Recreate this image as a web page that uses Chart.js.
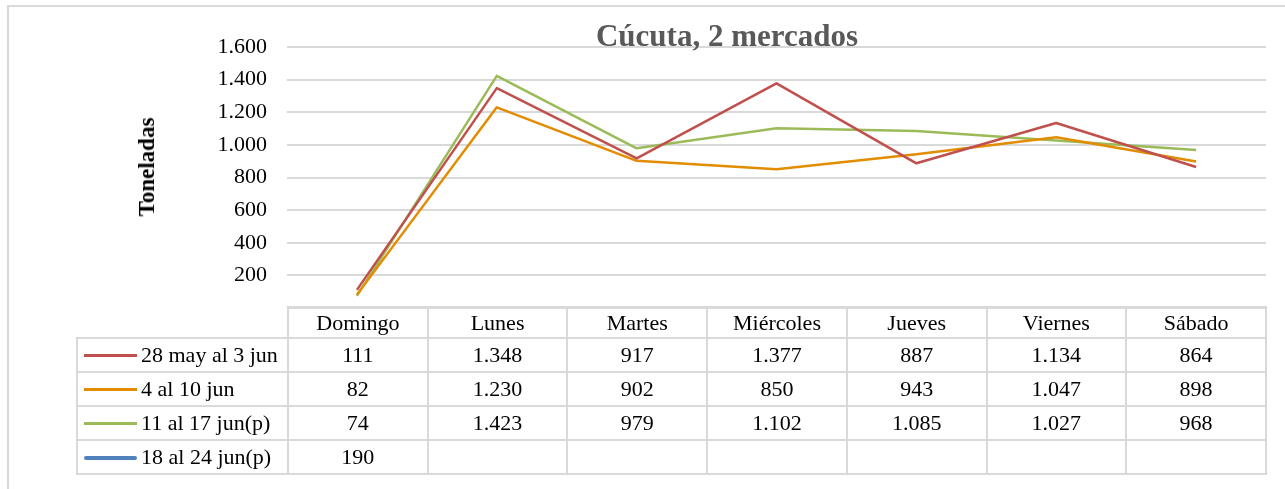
<!DOCTYPE html>
<html>
<head>
<meta charset="utf-8">
<script src="https://cdn.jsdelivr.net/npm/chart.js@4.4.1/dist/chart.umd.min.js"></script>
<style>
  body { margin: 0; background: #fff; }
  #wrap { position: relative; width: 1285px; height: 489px; overflow: hidden; font-family: "Liberation Serif", serif; }
  #frame { position: absolute; left: 7px; top: 5px; width: 1400px; height: 600px; border: 2px solid #d9d9d9; box-sizing: border-box; }
  #chart { position: absolute; left: 0; top: 0; }
  #title { position: absolute; left: 527px; width: 400px; top: 18px; text-align: center; font-weight: bold; font-size: 31px; color: #595959; }
  #ytitle { position: absolute; left: 147px; top: 167px; transform: translate(-50%, -50%) rotate(-90deg); font-weight: bold; font-size: 23px; white-space: nowrap; }
  #tbl { position: absolute; left: 76px; top: 306px; border-collapse: collapse; table-layout: fixed; width: 1191px; font-size: 22px; }
  #tbl td { border: 2px solid #d9d9d9; text-align: center; padding: 0; height: 32px; white-space: nowrap; }
  #tbl tr.head td { height: 29px; }
  #tbl td.blank { border-top-style: hidden; border-left-style: hidden; }
  #tbl td.leg { text-align: left; padding-left: 6px; }
  .swatch { display: inline-block; width: 53px; height: 3px; vertical-align: middle; margin-right: 4px; position: relative; top: -1px; }
</style>
</head>
<body>
<div id="wrap">
  <div id="frame"></div>
  <canvas id="chart" width="1285" height="489"></canvas>
  <div id="title">Cúcuta, 2 mercados</div>
  <div id="ytitle">Toneladas</div>
  <table id="tbl"></table>
</div>
<script>
// data
const days = ['Domingo', 'Lunes', 'Martes', 'Miércoles', 'Jueves', 'Viernes', 'Sábado'];
const seriesNames = ['28 may al 3 jun', '4 al 10 jun', '11 al 17 jun(p)', '18 al 24 jun(p)'];
const week1 = [111, 1348, 917, 1377, 887, 1134, 864];
const week2 = [82, 1230, 902, 850, 943, 1047, 898];
const week3 = [74, 1423, 979, 1102, 1085, 1027, 968];
const week4 = [190, null, null, null, null, null, null];
const yTicks = [0, 200, 400, 600, 800, 1000, 1200, 1400, 1600];
const colors = ['#c0504d', '#e48c00', '#9bbb59', '#4f81bd'];

function fmt(n) {
    if (n === null) return '';
    if (n < 1000) return String(n);
    const rest = String(n % 1000).padStart(3, '0');
    return Math.floor(n / 1000) + '.' + rest;
}

const allSeries = [week1, week2, week3, week4];

const ctx = document.getElementById('chart').getContext('2d');
new Chart(ctx, {
    type: 'line',
    data: {
        labels: days,
        datasets: allSeries.map((d, i) => ({
            label: seriesNames[i],
            data: d,
            borderColor: colors[i],
            backgroundColor: colors[i],
            borderWidth: i === 3 ? 3.5 : 2.5,
            pointRadius: 0,
            tension: 0,
            borderJoinStyle: 'round',
            spanGaps: false
        }))
    },
    options: {
        responsive: false,
        animation: false,
        layout: { padding: { top: 47, bottom: 181, right: 19, left: 0 } },
        plugins: { legend: { display: false }, title: { display: false }, tooltip: { enabled: false } },
        scales: {
            x: { display: false, offset: true },
            y: {
                min: yTicks[0],
                max: yTicks[yTicks.length - 1],
                afterFit: (scale) => { scale.width = 287; },
                afterBuildTicks: (scale) => { scale.ticks = yTicks.map(v => ({ value: v })); },
                border: { display: false },
                grid: { color: '#d9d9d9', lineWidth: 2, drawTicks: false },
                ticks: {
                    padding: 20,
                    color: '#000',
                    font: { family: 'Liberation Serif', size: 22 },
                    callback: (v) => v === 0 ? '' : fmt(v)
                }
            }
        }
    }
});

// data table under the plot
const tbl = document.getElementById('tbl');
let html = '<colgroup><col style="width:211px">' + days.map(() => '<col>').join('') + '</colgroup>';
html += '<tr class="head"><td class="blank"></td>' + days.map(d => '<td>' + d + '</td>').join('') + '</tr>';
allSeries.forEach((d, i) => {
    html += '<tr><td class="leg"><span class="swatch" style="background:' + colors[i] +
        (i === 3 ? ';height:4px;border-radius:2px' : '') + '"></span>' + seriesNames[i] + '</td>' +
        d.map(v => '<td>' + fmt(v) + '</td>').join('') + '</tr>';
});
tbl.innerHTML = html;
</script>
</body>
</html>
